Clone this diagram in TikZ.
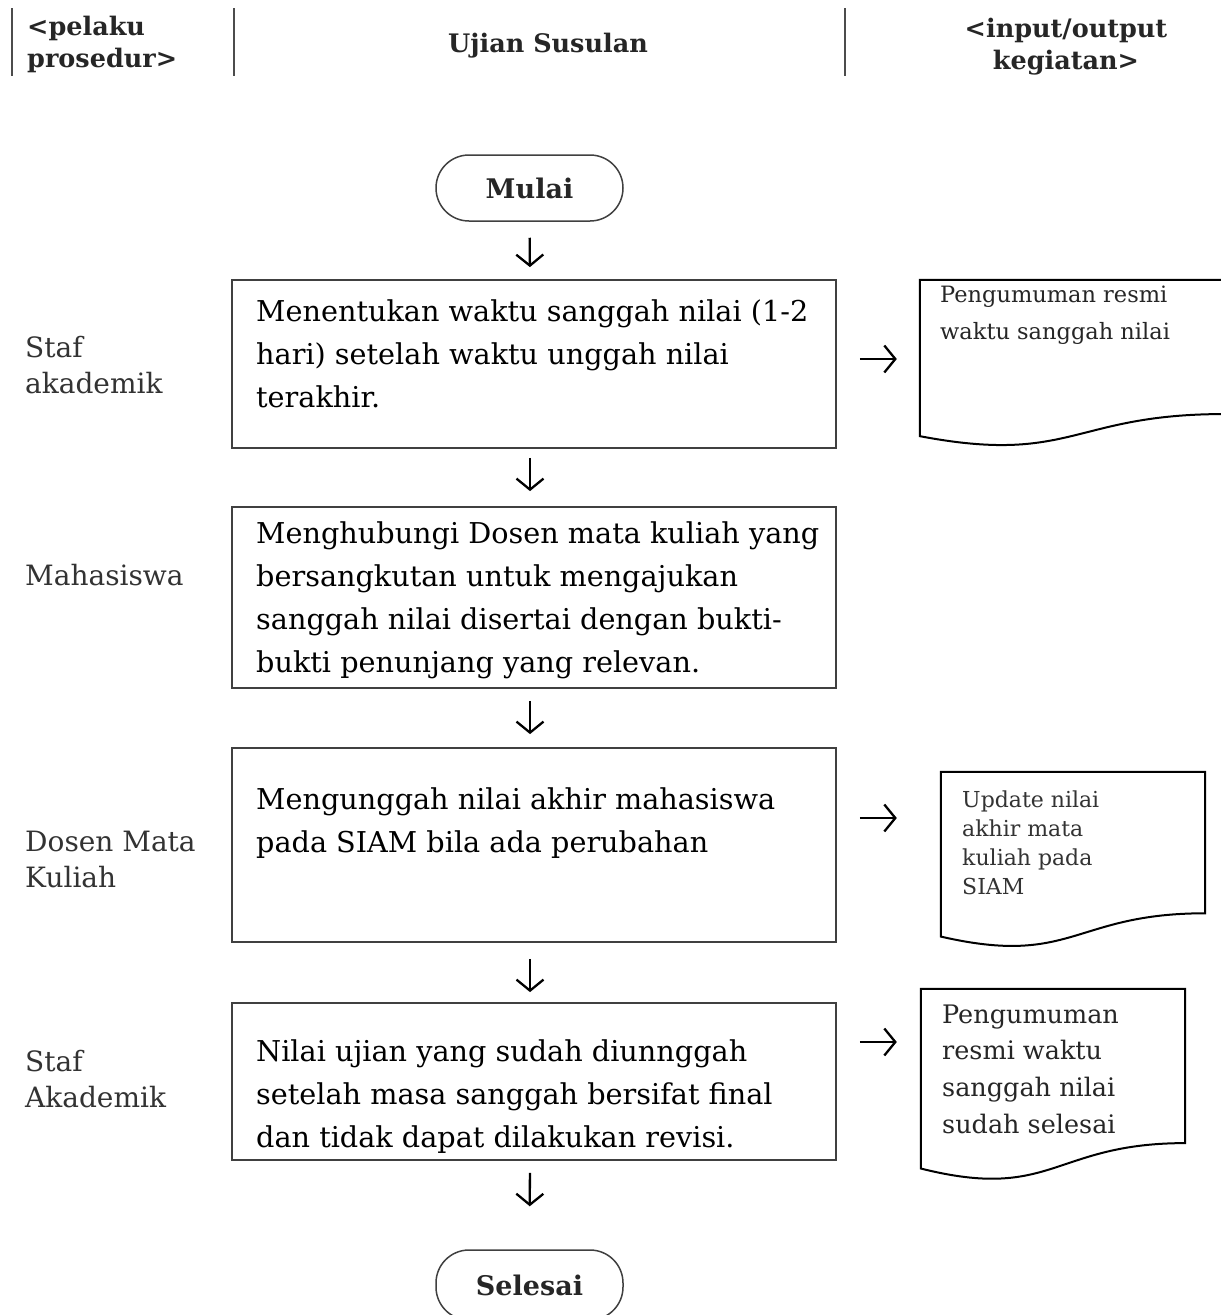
\documentclass[tikz,border=0pt]{standalone}
\usepackage{fontspec}
\setmainfont{DejaVu Serif}
\usetikzlibrary{arrows.meta,calc}
\newcommand\mlines[1]{\parbox[t]{800pt}{\raggedright #1}}
\newcommand\clines[1]{\parbox[t]{320pt}{\centering #1}}
\newcommand\drawdoc[1]{\draw[docline] (#1.north west) -- (#1.north east) -- ($(#1.north east)!0.802!(#1.south east)$) .. controls ($(#1.north)!0.802!(#1.south)$) and ($(#1.north)!1.107!(#1.south)$) .. ($(#1.north west)!0.934!(#1.south west)$) -- cycle;}
\begin{document}
\begin{tikzpicture}[x=1pt,y=-1pt,
  hdr/.style={inner sep=0pt, font=\bfseries\fontsize{25.5}{32}\selectfont, text=black!85},
  lane/.style={inner sep=0pt, anchor=base west, font=\fontsize{28}{36}\selectfont, text=black!80},
  boxtxt/.style={inner sep=0pt, anchor=base west, font=\fontsize{28.7}{43}\selectfont, text=black},
  procbox/.style={draw=black!75, line width=1.8pt, minimum width=604pt, inner sep=0pt},
  term/.style={draw=black!75, line width=1.5pt, rounded corners=33pt, minimum width=187pt, minimum height=66pt, inner sep=0pt, font=\bfseries\fontsize{27}{32}\selectfont, text=black!85},
  docnode/.style={inner sep=0pt},
  docline/.style={draw=black, line width=2pt},
  sep/.style={draw=black!70, line width=1.5pt},
  flow/.style={draw=black, line width=2.3pt, -{Straight Barb[length=11pt,width=27pt]}}
]
\useasboundingbox (0,0) rectangle (1221,1315);
\fill[white] (0,0) rectangle (1221,1315);

% header
\coordinate (h1t) at (12,8); \coordinate (h1b) at (12,76);
\coordinate (h2t) at (234,8); \coordinate (h2b) at (234,76);
\coordinate (h3t) at (845,8); \coordinate (h3b) at (845,76);
\draw[sep] (h1t) -- (h1b);
\draw[sep] (h2t) -- (h2b);
\draw[sep] (h3t) -- (h3b);
\node[hdr, anchor=base west] (hl) at (27,35) {\mlines{<pelaku\\prosedur>}};
\node[hdr, anchor=base] (hm) at (548,52) {Ujian Susulan};
\node[hdr, anchor=base] (hr) at (1066,37) {\clines{<input/output\\kegiatan>}};

% lane labels
\node[lane] (l1) at (25,357) {\mlines{Staf\\akademik}};
\node[lane] (l2) at (25,585) {Mahasiswa};
\node[lane] (l3) at (25,851) {\mlines{Dosen Mata\\Kuliah}};
\node[lane] (l4) at (25,1071) {\mlines{Staf\\Akademik}};

% terminals
\node[term] (start) at (529.5,188) {Mulai};
\node[term, minimum height=70pt] (stop) at (529.5,1285) {Selesai};

% process boxes
\node[procbox, minimum height=168pt] (b1) at (534,364) {};
\node[procbox, minimum height=181pt] (b2) at (534,597.5) {};
\node[procbox, minimum height=194pt] (b3) at (534,845) {};
\node[procbox, minimum height=157pt] (b4) at (534,1081.5) {};

\node[boxtxt] (b1t) at (256,321) {\mlines{Menentukan waktu sanggah nilai (1-2\\hari) setelah waktu unggah nilai\\terakhir.}};
\node[boxtxt] (b2t) at (256,543) {\mlines{Menghubungi Dosen mata kuliah yang\\bersangkutan untuk mengajukan\\sanggah nilai disertai dengan bukti-\\bukti penunjang yang relevan.}};
\node[boxtxt] (b3t) at (256,809) {\mlines{Mengunggah nilai akhir mahasiswa\\pada SIAM bila ada perubahan}};
\node[boxtxt] (b4t) at (256,1061) {\mlines{Nilai ujian yang sudah diunnggah\\setelah masa sanggah bersifat final\\dan tidak dapat dilakukan revisi.}};

% documents
\node[docnode, minimum width=304pt, minimum height=167pt] (d1) at (1072,363.5) {};
\node[docnode, minimum width=264pt, minimum height=176pt] (d2) at (1073,860) {};
\node[docnode, minimum width=264pt, minimum height=192pt] (d3) at (1053,1085) {};
\drawdoc{d1}
\drawdoc{d2}
\drawdoc{d3}
\node[inner sep=0pt, anchor=base west, font=\fontsize{22.5}{37}\selectfont, text=black!85] (d1t) at (940,302) {\mlines{Pengumuman resmi\\waktu sanggah nilai}};
\node[inner sep=0pt, anchor=base west, font=\fontsize{22}{29}\selectfont, text=black!80] (d2t) at (962,807) {\mlines{Update nilai\\akhir mata\\kuliah pada\\SIAM}};
\node[inner sep=0pt, anchor=base west, font=\fontsize{25.5}{36.7}\selectfont, text=black!85] (d3t) at (942,1023) {\mlines{Pengumuman\\resmi waktu\\sanggah nilai\\sudah selesai}};

% vertical flow
\coordinate (ax) at (530,0);
\draw[flow, shorten <=16pt, shorten >=12pt] (start.south) -- (ax |- b1.north);
\draw[flow, shorten <=9pt, shorten >=15pt] (ax |- b1.south) -- (ax |- b2.north);
\draw[flow, shorten <=12pt, shorten >=13pt] (ax |- b2.south) -- (ax |- b3.north);
\draw[flow, shorten <=16pt, shorten >=10pt] (ax |- b3.south) -- (ax |- b4.north);
\draw[flow, shorten <=12pt, shorten >=43pt] (ax |- b4.south) -- (stop.north);

% horizontal flow
\coordinate (r1) at (0,359);
\coordinate (r3) at (0,818);
\coordinate (r4) at (0,1042);
\draw[flow, shorten <=23pt, shorten >=23pt] (b1.east |- r1) -- (d1.west |- r1);
\draw[flow, shorten <=23pt, shorten >=44pt] (b3.east |- r3) -- (d2.west |- r3);
\draw[flow, shorten <=23pt, shorten >=24pt] (b4.east |- r4) -- (d3.west |- r4);
\end{tikzpicture}
\end{document}
